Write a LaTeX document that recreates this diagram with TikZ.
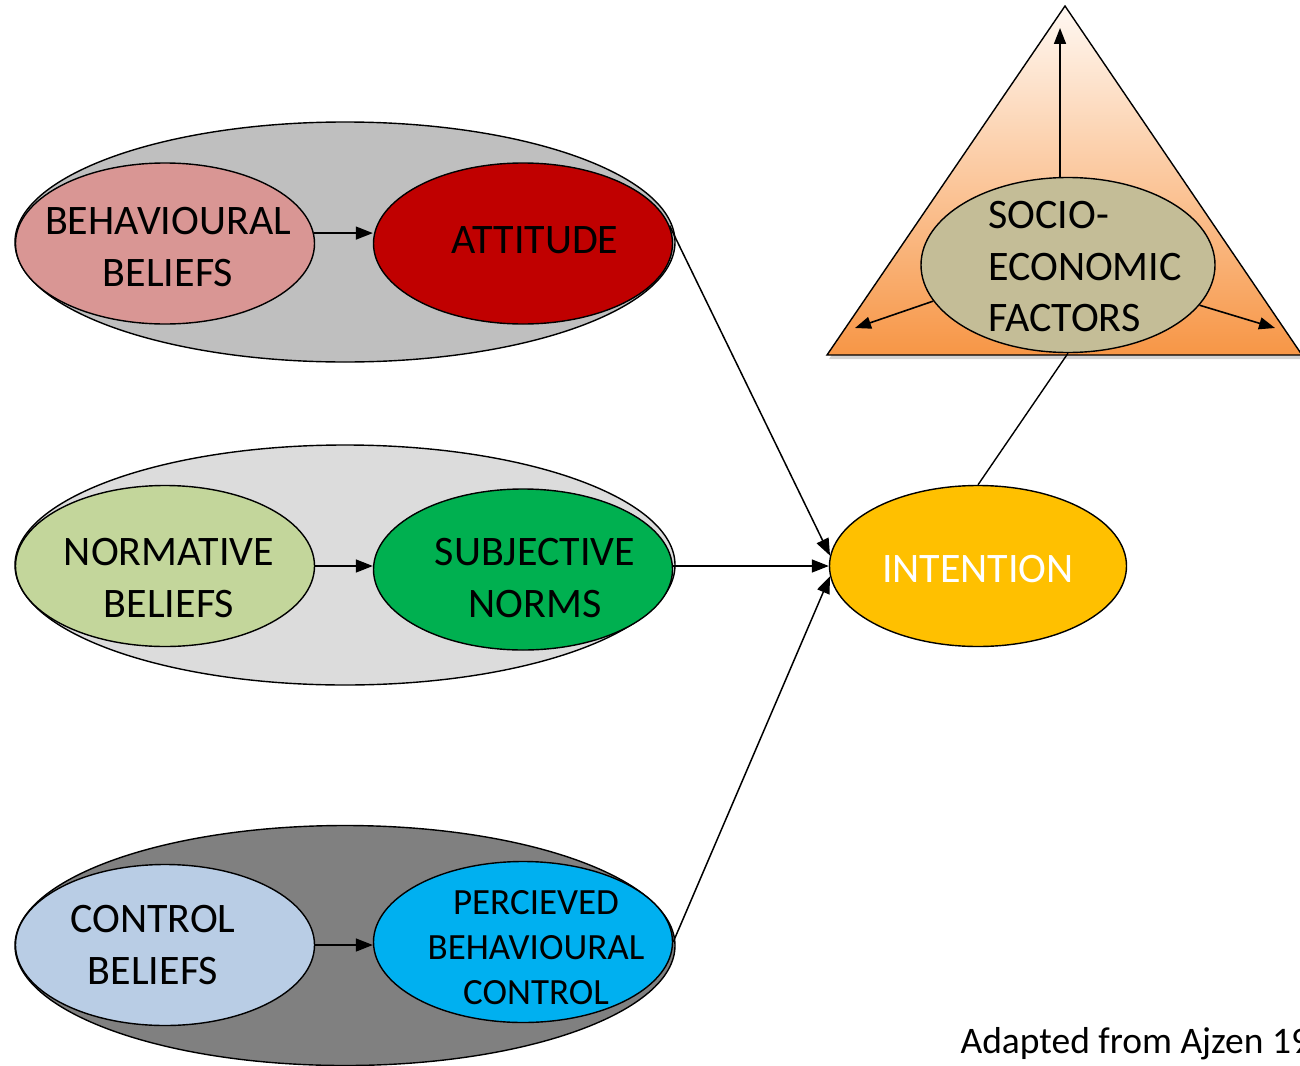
\documentclass[tikz,border=0pt]{standalone}
\usepackage{fontspec}
\setmainfont{Carlito}
\usetikzlibrary{shapes.geometric,arrows.meta,shadows}

\definecolor{grpA}{HTML}{BFBFBF}
\definecolor{grpB}{HTML}{DCDCDC}
\definecolor{grpC}{HTML}{808080}
\definecolor{behbel}{HTML}{D99694}
\definecolor{attit}{HTML}{C00000}
\definecolor{normbel}{HTML}{C3D69B}
\definecolor{subnorm}{HTML}{00B050}
\definecolor{contbel}{HTML}{B9CDE5}
\definecolor{pbc}{HTML}{00B0F0}
\definecolor{intent}{HTML}{FFC000}
\definecolor{socio}{HTML}{C4BD97}
\definecolor{triTop}{HTML}{FFF8F2}
\definecolor{triBot}{HTML}{F79646}

\tikzset{
  oval/.style={ellipse,draw,line width=1.4pt,inner sep=0pt,
    minimum width=299pt,minimum height=161pt},
  txt/.style={align=center,inner sep=0pt,font=\fontsize{42}{52}\selectfont},
  group/.style={ellipse,draw,line width=1.4pt,inner sep=0pt,
    minimum width=660pt,minimum height=240pt},
  link/.style={line width=1.5pt,-{Triangle[length=17pt,width=13pt]}},
  inlink/.style={line width=1.6pt,-{Triangle[length=16pt,width=12pt]}}
}

\begin{document}
\begin{tikzpicture}[x=1pt,y=-1pt]
\clip (0,0) rectangle (1300,1065);

\node[group,fill=grpA] (G1) at (345,242) {};
\node[group,fill=grpB] (G2) at (345,565) {};
\node[group,fill=grpC] (G3) at (345,945.5) {};

\node[oval,fill=behbel,label={[txt,xshift=3pt,yshift=-4pt]center:BEHAVIOURAL\\BELIEFS}] (BB) at (165,243.5) {};
\node[oval,fill=attit,label={[txt,xshift=12pt,yshift=3pt]center:ATTITUDE}] (AT) at (523,243.5) {};
\node[oval,fill=normbel,label={[txt,xshift=4pt,yshift=-12pt]center:NORMATIVE\\BELIEFS}] (NB) at (165,566) {};
\node[oval,fill=subnorm,label={[txt,xshift=12pt,yshift=-9pt]center:SUBJECTIVE\\NORMS}] (SN) at (523,569.5) {};
\node[oval,fill=contbel,label={[txt,xshift=-12pt]center:CONTROL\\BELIEFS}] (CB) at (165,945) {};
\node[oval,fill=pbc,label={[txt,font=\fontsize{37}{45}\selectfont,xshift=13pt,yshift=-6pt]center:PERCIEVED\\BEHAVIOURAL\\CONTROL}] (PB) at (523,942) {};

\node[oval,fill=intent,minimum width=297pt,label={[txt,text=white,yshift=-3pt]center:INTENTION}] (IN) at (978,566) {};

\draw[line width=1.4pt,top color=triTop,bottom color=triBot,
  drop shadow={opacity=0.35,shadow xshift=2pt,shadow yshift=-4pt}]
  (1065,6) -- (827,355) -- (1302,355) -- cycle;
\node[ellipse,draw,line width=1.4pt,fill=socio,inner sep=0pt,
  minimum width=294pt,minimum height=175pt] (SE) at (1068,265) {};
\node[align=left,font=\fontsize{42}{51.5}\selectfont] (SEtext) at (1085,267)
  {SOCIO-\\ECONOMIC\\FACTORS};

\coordinate (up) at (1060,28);
\coordinate (lt) at (855,328);
\coordinate (rt) at (1275,328);
\draw[inlink] (SE.north -| up) -- (up);
\draw[inlink] (SE.195) -- (lt);
\draw[inlink] (SE.343) -- (rt);

\draw[link] (BB.4) -- (BB.4 -| AT.west);
\draw[link] (NB.east) -- (NB.east -| SN.west);
\draw[link] (CB.east) -- (CB.east -| PB.west);

\draw[link] (AT.7) -- (IN.176);
\draw[link] (SN.east |- IN.west) -- (IN.west);
\draw[link] (PB.east) -- (IN.184);
\draw[line width=1.4pt] (IN.north) -- (SE.south);

\node[anchor=base west,font=\fontsize{37.5}{44}\selectfont] (src) at (957,1053)
  {Adapted from Ajzen 19};
\end{tikzpicture}
\end{document}
